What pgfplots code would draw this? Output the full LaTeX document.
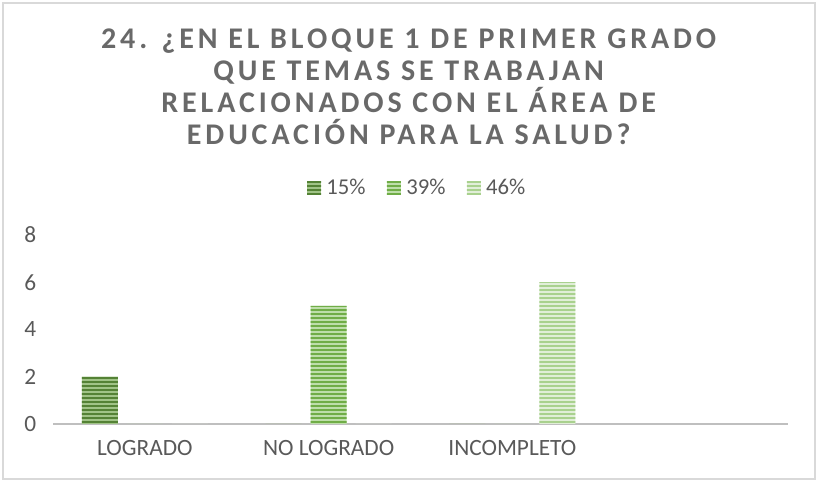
\documentclass[border=0pt]{standalone}
\usepackage{pgfplots}
\pgfplotsset{compat=1.18}
\usepackage{fontspec}
\setmainfont{Carlito}
\usetikzlibrary{patterns.meta}
\definecolor{txtgray}{RGB}{89,89,89}
\definecolor{titlegray}{RGB}{105,105,105}
\definecolor{axgray}{RGB}{191,191,191}
\definecolor{brd}{RGB}{217,217,217}
\definecolor{gA}{RGB}{84,130,53}
\definecolor{gAl}{RGB}{160,195,135}
\definecolor{gB}{RGB}{112,173,71}
\definecolor{gBl}{RGB}{190,222,170}
\definecolor{gC}{RGB}{169,209,142}
\definecolor{gCl}{RGB}{225,238,216}
\begin{document}
\begin{tikzpicture}
\path[use as bounding box] (0,0) rectangle (614.25pt,361.5pt);
\draw[brd, line width=1.5pt] (2.25pt,2.25pt) rectangle (611.25pt,359.25pt);
\node[align=center, text=titlegray, font={\fontsize{22.5pt}{24pt}\selectfont\bfseries\addfontfeatures{LetterSpace=13}}] at (306.5pt,296.5pt)
{24. ¿EN EL BLOQUE 1 DE PRIMER GRADO\\QUE TEMAS SE TRABAJAN\\RELACIONADOS CON EL ÁREA DE\\EDUCACIÓN PARA LA SALUD?};
\begin{axis}[
  at={(39.75pt,43.5pt)}, anchor=south west,
  scale only axis, width=551.25pt, height=141.75pt,
  xmin=-0.5, xmax=3.5, ymin=0, ymax=8,
  ytick={0,2,4,6,8},
  xtick={0,1,2}, xticklabels={LOGRADO,NO LOGRADO,INCOMPLETO},
  axis y line*=left, axis x line*=bottom,
  y axis line style={draw=none},
  x axis line style={axgray, line width=1.5pt, -},
  major tick length=0pt,
  every tick label/.append style={text=txtgray, font=\fontsize{17.5pt}{20pt}\selectfont},
  yticklabel style={anchor=east, xshift=-9pt},
  xticklabel style={anchor=north, yshift=-9pt},
  /pgf/number format/assume math mode=true,
  legend style={draw=none, fill=none, at={(0.496,1.249)}, anchor=center, legend columns=-1,
    font=\fontsize{17pt}{20pt}\selectfont, text=txtgray,
    /tikz/every odd column/.append style={column sep=2pt},
    /tikz/every even column/.append style={column sep=14pt}},
  legend image code/.code={\path[#1] (0pt,-5pt) rectangle (10.5pt,5pt);},
]
\addplot[ybar, bar width=27pt, bar shift=-33.75pt, draw=none, fill=gAl,
  postaction={pattern={Lines[angle=0,distance=3pt,line width=1.5pt]}, pattern color=gA}]
  coordinates {(0,2) (1,0) (2,0)};
\addlegendentry{15\%}
\addplot[ybar, bar width=27pt, bar shift=0pt, draw=none, fill=gBl,
  postaction={pattern={Lines[angle=0,distance=3pt,line width=1.5pt]}, pattern color=gB}]
  coordinates {(0,0) (1,5) (2,0)};
\addlegendentry{39\%}
\addplot[ybar, bar width=27pt, bar shift=33.75pt, draw=none, fill=gCl,
  postaction={pattern={Lines[angle=0,distance=3pt,line width=1.5pt]}, pattern color=gC}]
  coordinates {(0,0) (1,0) (2,6)};
\addlegendentry{46\%}
\end{axis}
\end{tikzpicture}
\end{document}
